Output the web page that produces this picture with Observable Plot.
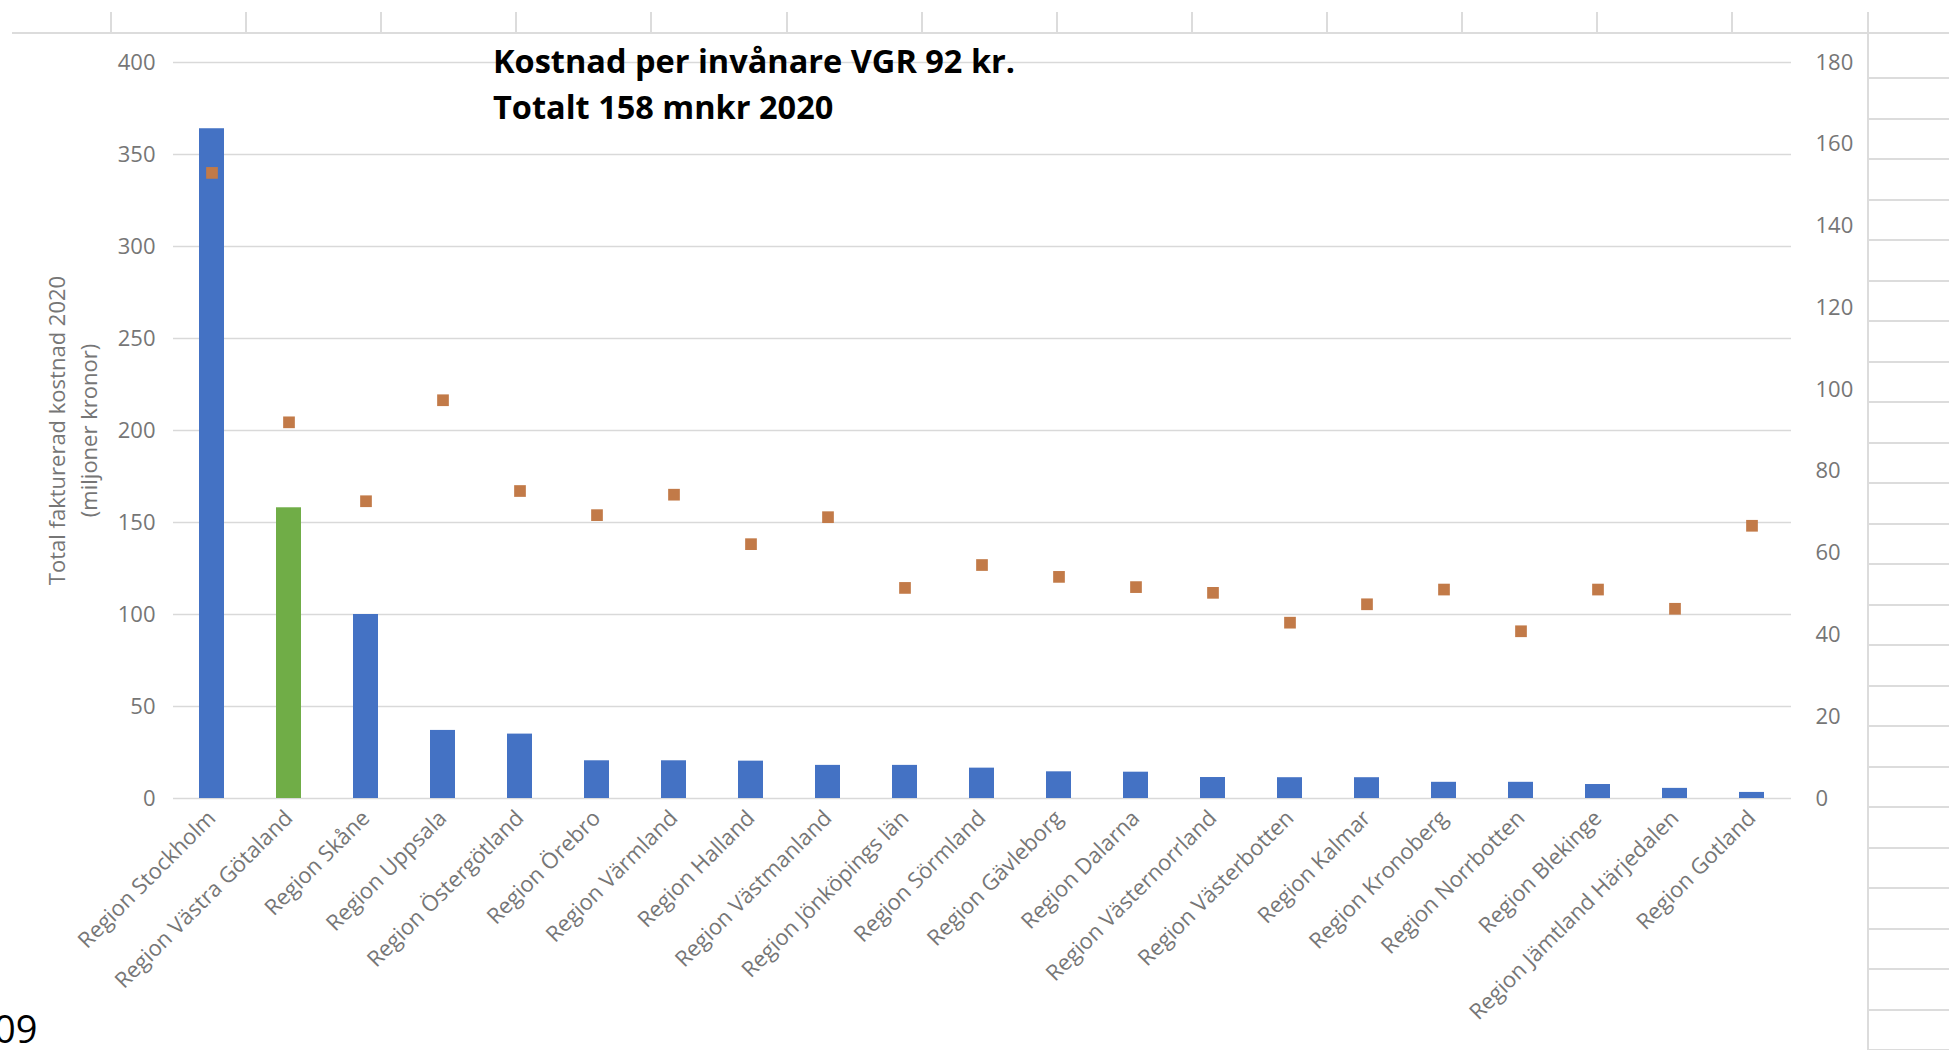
<!DOCTYPE html>
<html>
<head>
<meta charset="utf-8">
<script src="https://cdn.jsdelivr.net/npm/d3@7"></script>
<script src="https://cdn.jsdelivr.net/npm/@observablehq/plot@0.6"></script>
<style>
  html, body { margin: 0; padding: 0; background: #fff; }
  #wrap { position: relative; width: 1949px; height: 1050px; overflow: hidden; background: #fff; }
  .deco { position: absolute; background: #dcdcdc; pointer-events: none; }
  #title { position: absolute; left: 493px; top: 38px; font-family: "Open Sans", sans-serif; font-weight: 700; font-size: 32.5px; line-height: 46px; color: #000; white-space: nowrap; }
  #corner { position: absolute; left: -6px; top: 1002px; font-family: "Open Sans", sans-serif; font-size: 38px; color: #000; }
</style>
</head>
<body>
<div id="wrap"></div>
<script>
const regions = ["Region Stockholm","Region Västra Götaland","Region Skåne","Region Uppsala","Region Östergötland","Region Örebro","Region Värmland","Region Halland","Region Västmanland","Region Jönköpings län","Region Sörmland","Region Gävleborg","Region Dalarna","Region Västernorrland","Region Västerbotten","Region Kalmar","Region Kronoberg","Region Norrbotten","Region Blekinge","Region Jämtland Härjedalen","Region Gotland"];
const totalCost = [364,158,100,37,35,20.5,20.5,20.3,18,18,16.5,14.5,14.3,11.4,11.3,11.3,8.8,8.8,7.6,5.5,3.3];
const costPerCapita = [153,92,72.7,97.4,75.2,69.3,74.3,62.2,68.8,51.5,57.1,54.2,51.7,50.3,43,47.5,51.1,40.9,51.1,46.4,66.7];
const leftTicks = [0,50,100,150,200,250,300,350,400];
const rightTicks = [0,20,40,60,80,100,120,140,160,180];
const highlightRegion = "Region Västra Götaland";
const titleLines = ["Kostnad per invånare VGR 92 kr.", "Totalt 158 mnkr 2020"];
const yTitle = "Total fakturerad kostnad 2020\n(miljoner kronor)";
const cornerText = "09";

const leftMax = 400, rightMax = 180;
const ratio = leftMax / rightMax;
const rows = regions.map((r, i) => ({region: r, cost: totalCost[i], perCapita: costPerCapita[i]}));

const gray = "#767676";
const chart = Plot.plot({
  width: 1949,
  height: 1050,
  marginLeft: 173,
  marginRight: 158,
  marginTop: 62,
  marginBottom: 252,
  style: {fontFamily: "'Open Sans', sans-serif", fontSize: "22px", color: gray, background: "transparent"},
  x: {domain: regions, paddingInner: 0.67, paddingOuter: 0.335, axis: null},
  y: {domain: [0, leftMax], axis: null},
  marks: [
    Plot.gridY(leftTicks, {stroke: "#d9d9d9", strokeOpacity: 1, strokeWidth: 1.6}),
    Plot.barY(rows, {x: "region", y: "cost", fill: d => d.region === highlightRegion ? "#70AD47" : "#4472C4"}),
    Plot.dot(rows, {x: "region", y: d => d.perCapita * ratio, symbol: "square", r: 6.6, fill: "#C27A48", stroke: null}),
    Plot.axisY(leftTicks, {anchor: "left", label: null, tickSize: 0, tickPadding: 18, fill: gray, fontSize: 22}),
    Plot.axisY(rightTicks.map(t => t * ratio), {anchor: "right", label: null, tickSize: 0, tickPadding: 24, fill: gray, fontSize: 22, tickFormat: d => String(Math.round(d / ratio))}),
    Plot.axisX({tickRotate: -45, label: null, tickSize: 0, tickPadding: 16, fill: gray, fontSize: 22}),
    Plot.text([yTitle], {frameAnchor: "left", dx: -103, rotate: -90, lineHeight: 1.45, fill: gray, fontSize: 22, textAnchor: "middle"})
  ]
});

const wrap = document.getElementById("wrap");
wrap.appendChild(chart);
chart.style.position = "absolute";
chart.style.left = "0px";
chart.style.top = "0px";

// spreadsheet-like background decorations
function deco(l, t, w, h) {
  const d = document.createElement("div");
  d.className = "deco";
  d.style.left = l + "px"; d.style.top = t + "px"; d.style.width = w + "px"; d.style.height = h + "px";
  wrap.appendChild(d);
}
deco(12, 32, 1937, 2);
for (let k = 0; k < 13; k++) deco(110 + k * 135.1, 12, 2, 21);
deco(1867, 12, 2, 1038);
for (let yy = 35; yy < 1050; yy += 40.5) deco(1869, Math.round(yy) + 42, 80, 2);

const t = document.createElement("div");
t.id = "title";
t.innerHTML = titleLines.join("<br>");
wrap.appendChild(t);

const c = document.createElement("div");
c.id = "corner";
c.textContent = cornerText;
wrap.appendChild(c);
</script>
</body>
</html>
